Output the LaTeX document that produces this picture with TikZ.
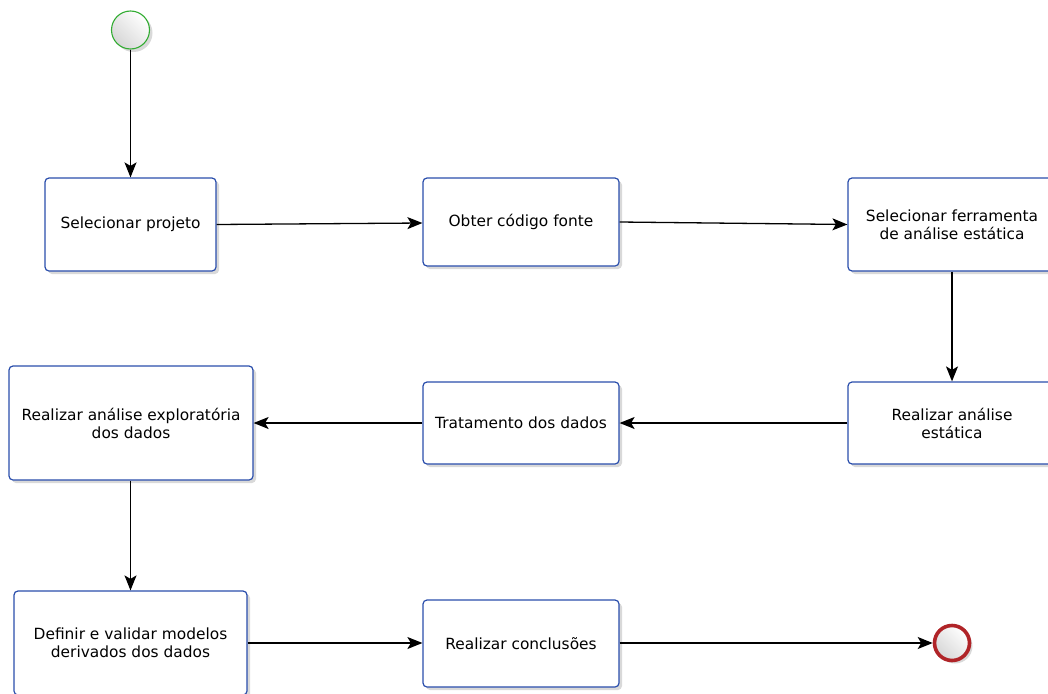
\documentclass[tikz,border=0pt]{standalone}
\usepackage{fontspec}
\setmainfont{DejaVu Sans}
\usetikzlibrary{shadows,arrows.meta,shadings}
\definecolor{boxblue}{RGB}{42,78,172}
\definecolor{startgreen}{RGB}{50,172,50}
\definecolor{endred}{RGB}{176,36,40}
\tikzset{
  task/.style={draw=boxblue, line width=1.2pt, rounded corners=4pt, fill=white,
    align=center, font=\fontsize{15.4}{18}\selectfont, inner sep=0pt,
    drop shadow={opacity=0.3, shadow xshift=3pt, shadow yshift=-3pt}},
  evt/.style={circle, inner sep=0pt, top color=white, bottom color=black!16,
    shading angle=-45,
    drop shadow={opacity=0.3, shadow xshift=3pt, shadow yshift=-3pt}},
  flow/.style={line width=1.3pt, -{Stealth[length=15pt,width=12pt,inset=3.5pt]}}
}
\begin{document}
\begin{tikzpicture}[x=1pt,y=-1pt]
\useasboundingbox (0,0) rectangle (1048,693);
\node[evt, draw=startgreen, line width=1.1pt, minimum size=38pt] (start) at (130.5,30) {};
\node[task, minimum width=171pt, minimum height=93pt] (t1) at (130.5,224.5) {Selecionar projeto};
\node[task, minimum width=196pt, minimum height=88pt] (t2) at (521,222) {Obter código fonte};
\node[task, minimum width=208pt, minimum height=93pt] (t3) at (952,224.5) {Selecionar ferramenta\\de análise estática};
\node[task, minimum width=208pt, minimum height=82pt] (t4) at (952,423) {Realizar análise\\estática};
\node[task, minimum width=196pt, minimum height=82pt] (t5) at (521,423) {Tratamento dos dados};
\node[task, minimum width=244pt, minimum height=114pt] (t6) at (131,423) {Realizar análise exploratória\\dos dados};
\node[task, minimum width=233pt, minimum height=104pt] (t7) at (130.5,643) {Definir e validar modelos\\derivados dos dados};
\node[task, minimum width=196pt, minimum height=87pt] (t8) at (521,643.5) {Realizar conclusões};
\node[evt, draw=endred, line width=3.6pt, minimum size=35pt] (end) at (952,643) {};
\draw[flow] (start) -- (t1);
\draw[flow] (t1.east) -- (t2.west |- 0,223);
\draw[flow] (t2.east) -- (t3.west);
\draw[flow] (t3) -- (t4);
\draw[flow] (t4) -- (t5);
\draw[flow] (t5) -- (t6);
\draw[flow] (t7.north |- t6.south) -- (t7.north);
\draw[flow] (t7.east) -- (t8.west |- 0,643);
\draw[flow] (t8.east |- 0,643) -- (end);
\end{tikzpicture}
\end{document}
